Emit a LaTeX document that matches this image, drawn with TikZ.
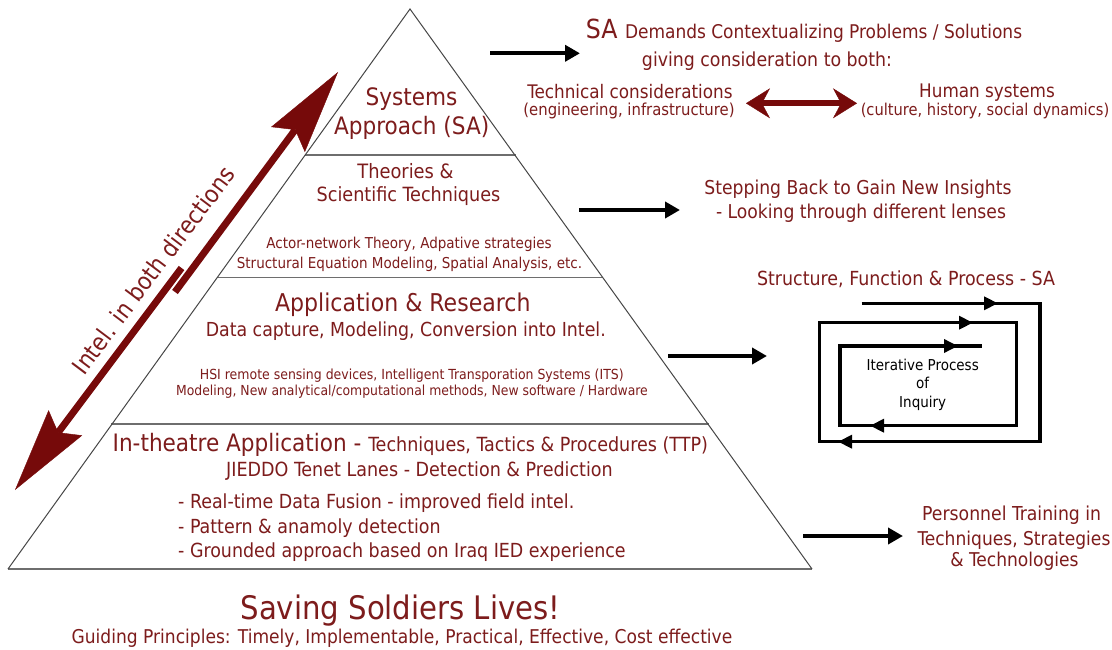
\documentclass[tikz,border=0pt]{standalone}
\usepackage{fontspec}
\setmainfont{DejaVu Sans Condensed}
\usetikzlibrary{arrows.meta}
\definecolor{maroon}{RGB}{125,28,28}
\definecolor{arrowred}{RGB}{118,10,10}
\definecolor{edgegray}{RGB}{70,70,70}
\definecolor{bandgray}{RGB}{110,110,110}
\newcommand\fsz[1]{\fontsize{#1pt}{#1pt}\selectfont}

\begin{document}
\begin{tikzpicture}[x=1pt,y=-1pt,
  lbl/.style={inner sep=0pt, anchor=base, text=maroon},
  lblw/.style={lbl, anchor=base west},
  blackarrow/.style={line width=4pt, -{Triangle[length=15pt,width=16pt]}},
  bigarrow/.style={arrowred, line width=7pt,
    -{Stealth[length=84pt,width=42pt,inset=12pt,line width=0.4pt]}},
  twoway/.style={arrowred, line width=6pt,
    {Stealth[length=24pt,width=30pt,inset=8pt,line width=0.4pt]}-{Stealth[length=24pt,width=30pt,inset=8pt,line width=0.4pt]}},
  spiral/.style={line width=3.4pt, line join=miter},
  spiraltip/.style={line width=3.4pt, -{Triangle[length=14pt,width=13pt]}},
  edge/.style={edgegray, line width=1pt, line join=miter},
  band/.style={bandgray, line width=1.5pt}]

% canvas
\useasboundingbox (0,0) rectangle (1112,650);
\fill[white] (0,0) rectangle (1112,650);

% ---------- pyramid ----------
\coordinate (apex) at (410,9);
\coordinate (bl) at (8,569);
\coordinate (br) at (812,569);
\coordinate (b1l) at (304.5,155);   \coordinate (b1r) at (515.5,155);
\coordinate (b2l) at (216.6,277.3); \coordinate (b2r) at (603.4,277.3);
\coordinate (b3l) at (111.3,424);   \coordinate (b3r) at (708.7,424);
\draw[band] (b1l) -- (b1r);
\draw[band] (b2l) -- (b2r);
\draw[band] (b3l) -- (b3r);
\draw[band] (bl) -- (br);
\draw[edge] (bl) -- (apex) -- (br);

% tier 1
\node[lbl] (sys1) at (411.5,105.3) {\fsz{24}Systems};
\node[lbl] (sys2) at (411.7,134.6) {\fsz{24}Approach (SA)};
% tier 2
\node[lbl] (th1) at (405.5,178.9) {\fsz{19.8}Theories \&};
\node[lbl] (th2) at (408.5,201.5) {\fsz{19.6}Scientific Techniques};
\node[lbl] (th3) at (409,248.4) {\fsz{15}Actor-network Theory, Adpative strategies};
\node[lbl] (th4) at (409.5,268.4) {\fsz{15}Structural Equation Modeling, Spatial Analysis, etc.};
% tier 3
\node[lbl] (ap1) at (402.8,311.9) {\fsz{24.5}Application \& Research};
\node[lbl] (ap2) at (405.8,336) {\fsz{19.3}Data capture, Modeling, Conversion into Intel.};
\node[lbl] (ap3) at (411.8,379) {\fsz{13.9}HSI remote sensing devices, Intelligent Transporation Systems (ITS)};
\node[lbl] (ap4) at (412,395.7) {\fsz{13.8}Modeling, New analytical/computational methods, New software / Hardware};
% tier 4
\node[lblw] (it1) at (112.5,451.6) {\fsz{24}In-theatre Application - \fsz{19.5}Techniques, Tactics \& Procedures (TTP)};
\node[lbl] (it2) at (419.5,476) {\fsz{19.5}JIEDDO Tenet Lanes - Detection \& Prediction};
\node[lblw] (it3) at (178,508.4) {\fsz{19.4}- Real-time Data Fusion - improved field intel.};
\node[lblw] (it4) at (178,533.4) {\fsz{19.4}- Pattern \& anamoly detection};
\node[lblw] (it5) at (178,557.4) {\fsz{19.4}- Grounded approach based on Iraq IED experience};

% footer
\node[lbl] (save) at (400.5,619.5) {\fsz{32.4}Saving Soldiers Lives!};
\node[lbl] (guide) at (402,643) {\fsz{19}Guiding Principles: Timely, Implementable, Practical, Effective, Cost effective};

% ---------- two-way intelligence arrow ----------
\coordinate (upTail) at (175,292);
\coordinate (upTip) at (338,72);
\coordinate (dnTail) at (181.5,268);
\coordinate (dnTip) at (15,490);
\draw[bigarrow] (upTail) -- (upTip);
\draw[bigarrow] (dnTail) -- (dnTip);
\node[text=maroon, inner sep=0pt, rotate=53] (intel) at (153,270) {\fsz{24}Intel. in both directions};

% ---------- right-hand notes ----------
\node[lblw] (sa1) at (585.6,38.4) {\fsz{26.3}SA \fsz{18.9}Demands Contextualizing Problems / Solutions};
\node[lbl] (sa2) at (767,66.7) {\fsz{19.3}giving consideration to both:};
\node[lbl] (tech1) at (630,98.4) {\fsz{18.7}Technical considerations};
\node[lbl] (tech2) at (629,115.5) {\fsz{16.5}(engineering, infrastructure)};
\node[lbl] (hum1) at (987,97.7) {\fsz{18.7}Human systems};
\node[lbl] (hum2) at (985,115.5) {\fsz{16.3}(culture, history, social dynamics)};
\coordinate (twL) at (746,103.3);
\coordinate (twR) at (857,103.3);
\draw[twoway] (twL) -- (twR);

\node[lbl] (step1) at (858,194.8) {\fsz{19.1}Stepping Back to Gain New Insights};
\node[lbl] (step2) at (861,218.5) {\fsz{19.1}- Looking through different lenses};

\node[lbl] (sfp) at (906,285.1) {\fsz{19.4}Structure, Function \& Process - SA};

\node[lbl] (pt1) at (1011.7,520) {\fsz{19.2}Personnel Training in};
\node[lbl] (pt2) at (1014,545) {\fsz{19}Techniques, Strategies};
\node[lbl] (pt3) at (1014.5,566.7) {\fsz{19}\& Technologies};

% black pointers out of the pyramid
\coordinate (p1s) at (490,53.3);  \coordinate (p1e) at (580,53.3);
\coordinate (p2s) at (579,210);   \coordinate (p2e) at (680,210);
\coordinate (p3s) at (668,356);   \coordinate (p3e) at (767,356);
\coordinate (p4s) at (803,536);   \coordinate (p4e) at (903,536);
\draw[blackarrow] (p1s) -- (p1e);
\draw[blackarrow] (p2s) -- (p2e);
\draw[blackarrow] (p3s) -- (p3e);
\draw[blackarrow] (p4s) -- (p4e);

% ---------- iterative spiral ----------
\coordinate (s0) at (861.7,303.3);
\coordinate (s1) at (1040,303.3);
\coordinate (s2) at (1040,441.7);
\coordinate (s3) at (819.3,441.7);
\coordinate (s4) at (819.3,322.7);
\coordinate (s5) at (1016.7,322.7);
\coordinate (s6) at (1016.7,425.7);
\coordinate (s7) at (840,425.7);
\coordinate (s8) at (840,346);
\coordinate (s9) at (981.7,346);
\draw[spiral] (s0) -- (s1) -- (s2) -- (s3) -- (s4) -- (s5) -- (s6) -- (s7) -- (s8) -- (s9);
\coordinate (m1a) at (975,303.3);   \coordinate (m1b) at (998,303.3);
\coordinate (m2a) at (950,322.7);   \coordinate (m2b) at (973,322.7);
\coordinate (m3a) at (935,346);     \coordinate (m3b) at (958,346);
\coordinate (m4a) at (893,425.7);   \coordinate (m4b) at (870,425.7);
\coordinate (m5a) at (861,441.7);   \coordinate (m5b) at (838,441.7);
\draw[spiraltip] (m1a) -- (m1b);
\draw[spiraltip] (m2a) -- (m2b);
\draw[spiraltip] (m3a) -- (m3b);
\draw[spiraltip] (m4a) -- (m4b);
\draw[spiraltip] (m5a) -- (m5b);
\node[inner sep=0pt, anchor=base] (iq1) at (922.7,370) {\fsz{15}Iterative Process};
\node[inner sep=0pt, anchor=base] (iq2) at (922.7,388.3) {\fsz{15}of};
\node[inner sep=0pt, anchor=base] (iq3) at (922.7,407) {\fsz{15}Inquiry};

\end{tikzpicture}
\end{document}
